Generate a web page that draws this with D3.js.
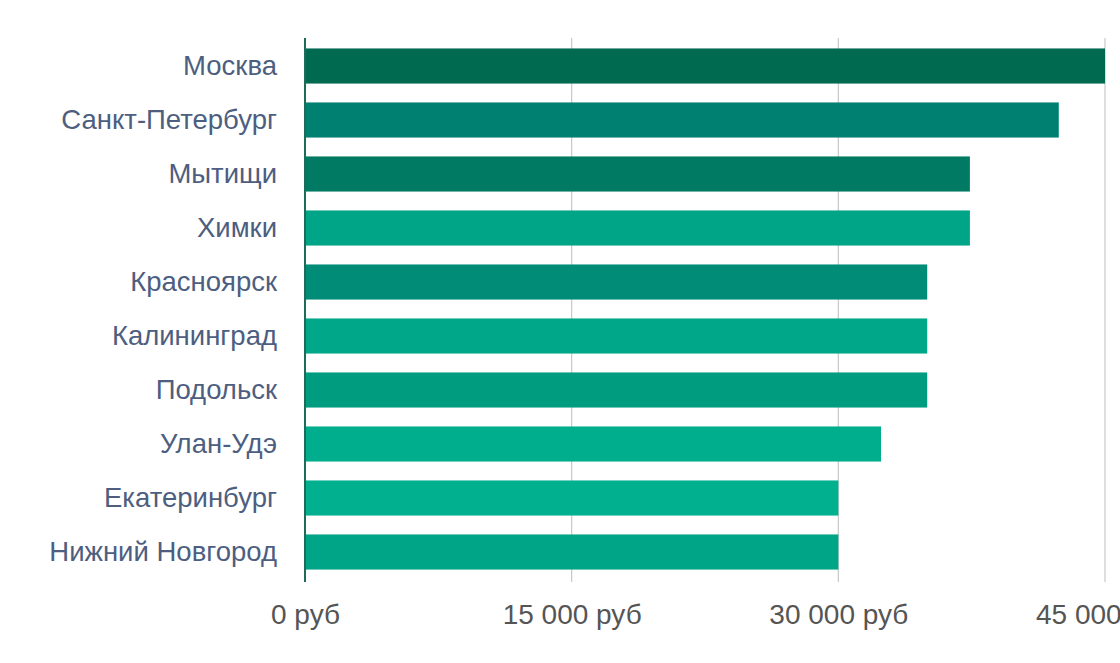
<!DOCTYPE html>
<html><head><meta charset="utf-8">
<script src="https://cdn.jsdelivr.net/npm/d3@7"></script>
<style>body{margin:0;background:#fff;overflow:hidden}svg{display:block}</style>
</head><body>
<svg id="c" width="1120" height="663"></svg>
<script>
const cities = ["Москва","Санкт-Петербург","Мытищи","Химки","Красноярск","Калининград","Подольск","Улан-Удэ","Екатеринбург","Нижний Новгород"];
const salaries = [45000,42400,37400,37400,35000,35000,35000,32400,30000,30000];
const barColors = ["#006a50","#008070","#007a62","#00a487","#008c76","#00a789","#009c7f","#00ae8d","#00b08f","#00a487"];
const tickValues = [0,15000,30000,45000];

const svg = d3.select("#c");
const x = d3.scaleLinear().domain([0,45000]).range([305,1105]);
const y = d3.scaleBand().domain(cities).range([39,579]).paddingInner(0.35).paddingOuter(0.175);

// gridlines
svg.append("g").selectAll("line").data(tickValues.slice(1)).join("line")
  .attr("x1",d=>x(d)).attr("x2",d=>x(d)).attr("y1",38).attr("y2",582)
  .attr("stroke","#c8c8c8").attr("stroke-width",1.2);

// bars
svg.append("g").selectAll("rect").data(cities).join("rect")
  .attr("x",x(0)).attr("y",d=>y(d)).attr("height",y.bandwidth())
  .attr("width",(d,i)=>x(salaries[i])-x(0))
  .attr("fill",(d,i)=>barColors[i]);

// y axis line
svg.append("line").attr("x1",x(0)).attr("x2",x(0)).attr("y1",38).attr("y2",582)
  .attr("stroke","#1f6b5a").attr("stroke-width",2);

// category labels
const yAxis = d3.axisLeft(y).tickSize(0).tickPadding(28);
const ya = svg.append("g").attr("transform",`translate(${x(0)},0)`).call(yAxis);
ya.select(".domain").remove();
ya.selectAll("text").attr("font-family","Liberation Sans, Arial, sans-serif")
  .attr("font-size",27.5).attr("fill","#4d5e80");

// x tick labels
const fmt = v => d3.format(",")(v).replace(/,/g," ") + " руб";
const xAxis = d3.axisBottom(x).tickValues(tickValues).tickSize(0).tickPadding(22).tickFormat(fmt);
const xa = svg.append("g").attr("transform","translate(0,582)").call(xAxis);
xa.select(".domain").remove();
xa.selectAll("text").attr("font-family","Liberation Sans, Arial, sans-serif")
  .attr("font-size",28).attr("fill","#555");
</script>
</body></html>
